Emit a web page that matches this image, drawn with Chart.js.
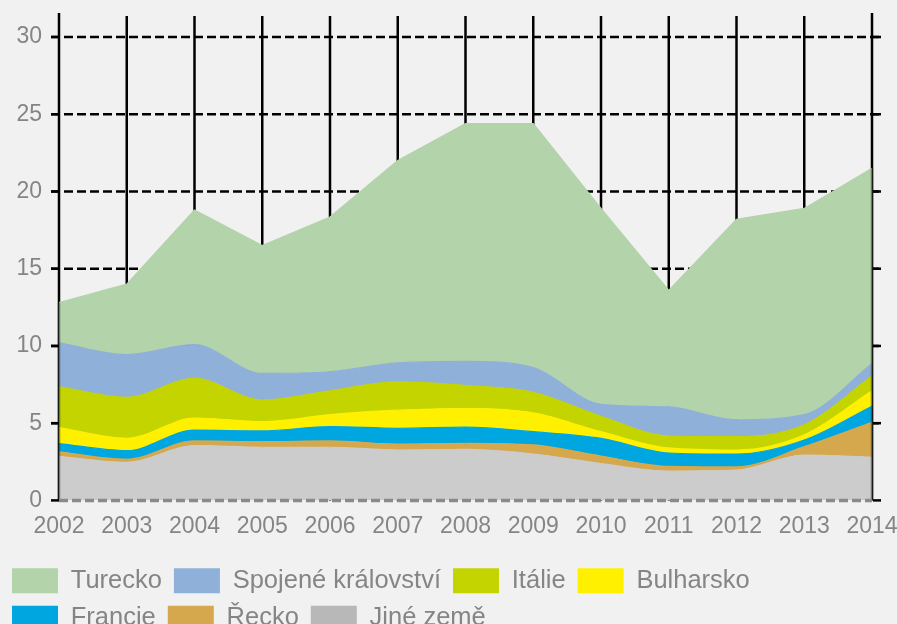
<!DOCTYPE html>
<html>
<head>
<meta charset="utf-8">
<script src="https://cdn.jsdelivr.net/npm/chart.js@4.4.1/dist/chart.umd.min.js"></script>
<style>
  html, body { margin: 0; padding: 0; background: #f1f1f1; overflow: hidden; }
  #wrap { position: relative; width: 897px; height: 641px; }
</style>
</head>
<body>
<div id="wrap"><canvas id="c"></canvas></div>
<script>
// Years on the horizontal axis
const YEARS = ['2002', '2003', '2004', '2005', '2006', '2007', '2008', '2009', '2010', '2011', '2012', '2013', '2014'];

// Series values (stacked bottom-up)
const JINE_ZEME   = [2.85, 2.46, 3.55, 3.44, 3.44, 3.26, 3.30, 3.00, 2.39, 1.90, 1.96, 2.94, 2.80];
const RECKO       = [0.30, 0.21, 0.30, 0.36, 0.41, 0.39, 0.40, 0.59, 0.48, 0.30, 0.21, 0.54, 2.25];
const FRANCIE     = [0.53, 0.55, 0.70, 0.70, 0.93, 1.02, 1.04, 0.86, 1.15, 0.87, 0.83, 0.43, 1.05];
const BULHARSKO   = [1.04, 0.80, 0.78, 0.60, 0.77, 1.17, 1.21, 1.22, 0.43, 0.33, 0.26, 0.33, 1.00];
const ITALIE      = [2.63, 2.65, 2.57, 1.40, 1.55, 1.83, 1.49, 1.33, 0.99, 0.77, 0.87, 0.65, 0.95];
const SPOJENE_KR  = [2.85, 2.77, 2.18, 1.72, 1.23, 1.23, 1.56, 1.60, 0.78, 1.88, 1.09, 0.66, 0.80];
const TURECKO     = [2.60, 4.56, 8.72, 8.28, 10.02, 13.10, 15.40, 15.80, 12.68, 7.55, 12.98, 13.35, 12.65];

// Y axis range and tick step
const Y_MIN = 0, Y_MAX = 30, Y_STEP = 5;

const TEXT_GREY = '#858585';
const FONT = "'Liberation Sans', Arial, sans-serif";

function band(label, data, color, fill, opts) {
  return Object.assign({
    label, data, fill,
    backgroundColor: color,
    borderColor: color,
    borderWidth: 1.2,
    pointRadius: 0,
    pointHoverRadius: 0,
    cubicInterpolationMode: 'monotone'
  }, opts || {});
}

// Grid, frame and tick marks around the stacked areas
const framePlugin = {
  id: 'frame',
  beforeDatasetsDraw(chart) {
    const { ctx, chartArea: a, scales: { x, y } } = chart;
    const seg = (x1, y1, x2, y2) => { ctx.beginPath(); ctx.moveTo(x1, y1); ctx.lineTo(x2, y2); ctx.stroke(); };
    ctx.save();
    ctx.strokeStyle = '#000';
    ctx.lineWidth = 2.5;
    YEARS.forEach((_, i) => {
      const px = x.getPixelForValue(i);
      const edge = i === 0 || i === YEARS.length - 1;
      seg(px, a.top - (edge ? 24 : 21), px, a.bottom);
    });
    ctx.setLineDash([9, 4]);
    y.ticks.forEach(t => {
      if (t.value === Y_MIN) return;
      const py = y.getPixelForValue(t.value);
      seg(a.left - 8, py, a.right + 9, py);
    });
    ctx.restore();
  },
  afterDatasetsDraw(chart) {
    const { ctx, chartArea: a, scales: { x, y } } = chart;
    const seg = (x1, y1, x2, y2) => { ctx.beginPath(); ctx.moveTo(x1, y1); ctx.lineTo(x2, y2); ctx.stroke(); };
    const topMeta = chart.getDatasetMeta(chart.data.datasets.length - 1);
    ctx.save();
    // darker edges of the area at the first and last year
    ctx.strokeStyle = 'rgba(40,50,40,0.55)';
    ctx.lineWidth = 2.5;
    [0, YEARS.length - 1].forEach(i => {
      const px = x.getPixelForValue(i);
      seg(px, a.bottom, px, topMeta.data[i].y);
    });
    // dashed baseline
    ctx.strokeStyle = '#8a8a8a';
    ctx.lineWidth = 3.5;
    ctx.setLineDash([9, 4]);
    seg(a.left, a.bottom, a.right, a.bottom);
    ctx.setLineDash([]);
    // solid tick marks on both sides
    ctx.strokeStyle = '#000';
    ctx.lineWidth = 2.5;
    y.ticks.forEach(t => {
      const py = y.getPixelForValue(t.value);
      seg(a.left - 8, py, a.left, py);
      seg(a.right + 1, py, a.right + 9, py);
    });
    ctx.restore();
  }
};

new Chart(document.getElementById('c'), {
  type: 'line',
  data: {
    labels: YEARS,
    datasets: [
      band('Jiné země', JINE_ZEME, '#cccccc', 'origin', { legendColor: '#b8b8b8' }),
      band('Řecko', RECKO, '#d6a84e', '-1'),
      band('Francie', FRANCIE, '#00a6e0', '-1'),
      band('Bulharsko', BULHARSKO, '#fff000', '-1'),
      band('Itálie', ITALIE, '#c3d400', '-1'),
      band('Spojené království', SPOJENE_KR, '#8fb0d8', '-1'),
      band('Turecko', TURECKO, '#b3d3aa', '-1', { cubicInterpolationMode: 'default', tension: 0 })
    ]
  },
  options: {
    responsive: true,
    maintainAspectRatio: false,
    animation: false,
    layout: { padding: { top: 37, left: 0, right: 25, bottom: 0 } },
    scales: {
      x: {
        grid: { display: false, drawTicks: false },
        border: { display: false },
        ticks: {
          color: TEXT_GREY,
          font: { family: FONT, size: 23 },
          padding: 12,
          maxRotation: 0,
          autoSkip: false
        },
        afterFit(scale) {
          scale.paddingLeft = 0;
          scale.paddingRight = 0;
          scale.height += 4;
        }
      },
      y: {
        stacked: true,
        min: Y_MIN,
        max: Y_MAX,
        grid: { display: false, drawTicks: false },
        border: { display: false },
        ticks: {
          stepSize: Y_STEP,
          color: TEXT_GREY,
          font: { family: FONT, size: 23 },
          padding: 17
        },
        afterFit(scale) { scale.width = 59; }
      }
    },
    plugins: {
      tooltip: { enabled: false },
      legend: {
        position: 'bottom',
        align: 'start',
        reverse: true,
        labels: {
          color: TEXT_GREY,
          font: { family: FONT, size: 25.5 },
          boxWidth: 46,
          boxHeight: 25,
          padding: 12,
          generateLabels(chart) {
            const items = Chart.defaults.plugins.legend.labels.generateLabels(chart);
            items.forEach(it => {
              const ds = chart.data.datasets[it.datasetIndex];
              it.fillStyle = ds.legendColor || ds.backgroundColor;
              it.lineWidth = 0;
            });
            return items;
          }
        }
      }
    }
  },
  plugins: [framePlugin]
});
</script>
</body>
</html>
